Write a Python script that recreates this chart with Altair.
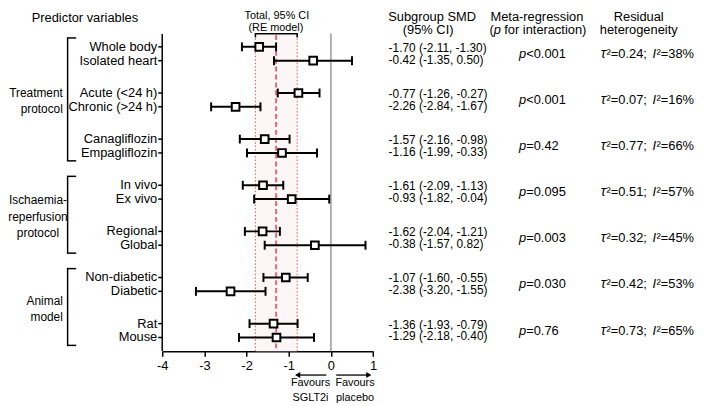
import altair as alt
import pandas as pd

# ---------------- data ----------------
labels = ["Whole body", "Isolated heart", "Acute (<24 h)", "Chronic (>24 h)",
          "Canagliflozin", "Empagliflozin", "In vivo", "Ex vivo",
          "Regional", "Global", "Non-diabetic", "Diabetic", "Rat", "Mouse"]
smd = [-1.70, -0.42, -0.77, -2.26, -1.57, -1.16, -1.61, -0.93,
       -1.62, -0.38, -1.07, -2.38, -1.36, -1.29]
ci_low = [-2.11, -1.35, -1.26, -2.84, -2.16, -1.99, -2.09, -1.82,
          -2.04, -1.57, -1.60, -3.20, -1.93, -2.18]
ci_high = [-1.30, 0.50, -0.27, -1.67, -0.98, -0.33, -1.13, -0.04,
           -1.21, 0.82, -0.55, -1.55, -0.79, -0.40]
p_values = ["<0.001", "<0.001", "=0.42", "=0.095", "=0.003", "=0.030", "=0.76"]
tau2 = ["0.24", "0.07", "0.77", "0.51", "0.32", "0.42", "0.73"]
i2 = ["38%", "16%", "66%", "57%", "45%", "53%", "65%"]
group_lines = [["Treatment", "protocol"],
               ["Ischaemia-", "reperfusion", "protocol"],
               ["Animal", "model"]]
group_pairs = [[0, 1, 2], [3, 4], [5, 6]]
group_align = ["right", "center", "right"]
overall_est = -1.30
overall_low = -1.79
overall_high = -0.80
x_ticks = [-4, -3, -2, -1, 0, 1]

# ---------------- layout ----------------
FONT = "Liberation Sans"
PX = 14.0          # pixels per row unit
PAIR = 10 / 3      # row units between pairs
Y0 = 37
N_UNITS = 21
AX_TOP = 24
AX_BOTTOM = 345

xscale = alt.Scale(domain=[x_ticks[0], x_ticks[-1]], range=[156, 369.3], nice=False, zero=False)
yscale = alt.Scale(domain=[0, N_UNITS], range=[Y0, Y0 + PX * N_UNITS], nice=False, zero=False)
xaxis = alt.Axis(values=x_ticks, title=None, labelExpr="'' + datum.value", grid=False,
                 domainColor="black", domainWidth=1.5, tickColor="black", tickWidth=1.5,
                 tickSize=5, labelFontSize=13, labelFont=FONT, labelColor="black",
                 labelPadding=3, labelFlush=False)


def X(f):
    return alt.X(f, type="quantitative", scale=xscale, axis=xaxis)


def Y(f):
    return alt.Y(f, type="quantitative", scale=yscale, axis=None)


n = len(labels)
rows = pd.DataFrame({"label": labels, "smd": smd, "lo": ci_low, "hi": ci_high})
rows["pos"] = [(i // 2) * PAIR + (i % 2) for i in range(n)]
rows["tpos"] = [(i // 2) * PAIR + 0.5 + (-0.43 if i % 2 == 0 else 0.43) for i in range(n)]
rows["txt"] = [f"{s:.2f} ({l:.2f}, {h:.2f})" for s, l, h in zip(smd, ci_low, ci_high)]

pairs = pd.DataFrame({
    "mid": [k * PAIR + 0.5 for k in range(len(p_values))],
    "p": p_values,
    "tau": ["\u00b2=" + t + ";" for t in tau2],
    "i2": ["\u00b2=" + v for v in i2],
})

br_top = [g[0] * PAIR - 9 / PX for g in group_pairs]
br_bot = [g[-1] * PAIR + 1 + 8 / PX for g in group_pairs]
brackets = pd.DataFrame({"top": br_top, "bottom": br_bot})
arms = pd.DataFrame({"y": br_top + br_bot})

gl = []
for lines, t, b, al in zip(group_lines, br_top, br_bot, group_align):
    mid = (t + b) / 2 + 2 / PX
    m = len(lines)
    for j, s in enumerate(lines):
        gl.append({"text": s, "y": mid + (j - (m - 1) / 2) * 16.5 / PX, "align": al})
glabels = pd.DataFrame(gl)

overall = pd.DataFrame({"est": [overall_est], "lo": [overall_low], "hi": [overall_high]})
zero_df = pd.DataFrame({"x": [0]})
yaxis_df = pd.DataFrame({"x": [x_ticks[0]]})
one = pd.DataFrame({"k": [0]})


def label(text, x, y, size=13, align="center", style="normal"):
    return alt.Chart(one).mark_text(
        text=text, align=align, baseline="alphabetic", fontSize=size, font=FONT,
        fontStyle=style, color="black"
    ).encode(x=alt.value(x), y=alt.value(y))


layers = []

# shaded overall CI
layers.append(alt.Chart(overall).mark_rect(color="#fdf6f6").encode(
    x=X("lo"), x2="hi", y=alt.value(AX_TOP + 1), y2=alt.value(AX_BOTTOM)))
# zero line
layers.append(alt.Chart(zero_df).mark_rule(color="#9a9a9a", strokeWidth=1.5).encode(
    x=X("x"), y=alt.value(AX_TOP - 0.5), y2=alt.value(AX_BOTTOM)))
# dotted overall CI lines
layers.append(alt.Chart(overall).transform_fold(["lo", "hi"], as_=["k", "v"]).mark_rule(
    color="#f0505a", strokeWidth=1, strokeDash=[1.5, 2]).encode(
    x=X("v"), y=alt.value(AX_TOP + 1), y2=alt.value(AX_BOTTOM)))
# dashed overall estimate
layers.append(alt.Chart(overall).mark_rule(color="#e3262e", strokeWidth=1.3, strokeDash=[5, 3]).encode(
    x=X("est"), y=alt.value(AX_TOP + 1), y2=alt.value(AX_BOTTOM)))
# bracket over overall CI
layers.append(alt.Chart(overall).mark_rule(color="black", strokeWidth=1.5).encode(
    x=X("lo"), x2="hi", y=alt.value(23.8)))
layers.append(alt.Chart(overall).transform_fold(["lo", "hi"], as_=["k", "v"]).mark_rule(
    color="black", strokeWidth=1.5).encode(x=X("v"), y=alt.value(23.1), y2=alt.value(27.5)))

# y axis line + ticks
layers.append(alt.Chart(yaxis_df).mark_rule(color="black", strokeWidth=1.5).encode(
    x=X("x"), y=alt.value(AX_TOP), y2=alt.value(AX_BOTTOM)))
layers.append(alt.Chart(rows).mark_rule(color="black", strokeWidth=1.5).encode(
    x=alt.value(152), x2=alt.value(156), y=Y("pos")))
# row labels
layers.append(alt.Chart(rows).mark_text(align="right", baseline="middle", fontSize=13,
                                        font=FONT, color="black").encode(
    x=alt.value(151), y=Y("pos"), text="label:N"))

# error bars
layers.append(alt.Chart(rows).mark_rule(color="black", strokeWidth=2).encode(
    x=X("lo"), x2="hi", y=Y("pos")))
layers.append(alt.Chart(rows).transform_fold(["lo", "hi"], as_=["k", "v"]).mark_tick(
    orient="vertical", size=9, thickness=2, color="black", opacity=1).encode(
    x=X("v"), y=Y("pos")))
layers.append(alt.Chart(rows).mark_point(shape="square", filled=True, fill="white",
                                         stroke="black", strokeWidth=2, size=60,
                                         opacity=1).encode(x=X("smd"), y=Y("pos")))

# group brackets
layers.append(alt.Chart(brackets).mark_rule(color="black", strokeWidth=1.5).encode(
    x=alt.value(60.3), y=Y("top"), y2="bottom"))
layers.append(alt.Chart(arms).mark_rule(color="black", strokeWidth=1.5).encode(
    x=alt.value(59.6), x2=alt.value(69), y=Y("y")))
layers.append(alt.Chart(glabels).transform_filter("datum.align == 'right'").mark_text(
    align="right", baseline="middle", fontSize=12, font=FONT, color="black").encode(
    x=alt.value(55.5), y=Y("y"), text="text:N"))
layers.append(alt.Chart(glabels).transform_filter("datum.align == 'center'").mark_text(
    align="center", baseline="middle", fontSize=12, font=FONT, color="black").encode(
    x=alt.value(30.3), y=Y("y"), text="text:N"))

# SMD column
layers.append(alt.Chart(rows).mark_text(align="left", baseline="middle", fontSize=12,
                                        font=FONT, color="black").encode(
    x=alt.value(385), y=Y("tpos"), text="txt:N"))
# p column
layers.append(alt.Chart(pairs).mark_text(text="p", align="left", baseline="middle", fontSize=13,
                                         font=FONT, fontStyle="italic", color="black").encode(
    x=alt.value(517), y=Y("mid")))
layers.append(alt.Chart(pairs).mark_text(align="left", baseline="middle", fontSize=13,
                                         font=FONT, color="black").encode(
    x=alt.value(524.2), y=Y("mid"), text="p:N"))
# heterogeneity column
layers.append(alt.Chart(pairs).mark_text(text="\u03c4", align="left", baseline="middle", fontSize=14,
                                         font=FONT, fontStyle="italic", color="black").encode(
    x=alt.value(599.5), y=Y("mid")))
layers.append(alt.Chart(pairs).mark_text(align="left", baseline="middle", fontSize=13,
                                         font=FONT, color="black").encode(
    x=alt.value(605.5), y=Y("mid"), text="tau:N"))
layers.append(alt.Chart(pairs).mark_text(text="I", align="left", baseline="middle", fontSize=13,
                                         font=FONT, fontStyle="italic", color="black").encode(
    x=alt.value(652), y=Y("mid")))
layers.append(alt.Chart(pairs).mark_text(align="left", baseline="middle", fontSize=13,
                                         font=FONT, color="black").encode(
    x=alt.value(656), y=Y("mid"), text="i2:N"))

# headers
layers += [
    label("Predictor variables", 24, 11.5, align="left"),
    label("Total, 95% CI", 272, 9, size=11),
    label("(RE model)", 271, 20.5, size=11),
    label("Subgroup SMD", 429, 10.5),
    label("(95% CI)", 425, 24),
    label("Meta-regression", 535, 10.5),
    label("(", 487, 24, align="left"),
    label("p", 491.3, 24, align="left", style="italic"),
    label("for interaction)", 502, 24, align="left"),
    label("Residual", 638, 10.5),
    label("heterogeneity", 638, 24),
]

# favours arrows + text
layers.append(alt.Chart(one).mark_rule(color="black", strokeWidth=1.3).encode(
    x=alt.value(294), x2=alt.value(322), y=alt.value(369)))
layers.append(alt.Chart(one).mark_point(shape="triangle-left", filled=True, color="black",
                                        size=36, opacity=1).encode(
    x=alt.value(293), y=alt.value(369)))
layers.append(alt.Chart(one).mark_rule(color="black", strokeWidth=1.3).encode(
    x=alt.value(332), x2=alt.value(364), y=alt.value(369)))
layers.append(alt.Chart(one).mark_point(shape="triangle-right", filled=True, color="black",
                                        size=36, opacity=1).encode(
    x=alt.value(365), y=alt.value(369)))
layers += [
    label("Favours", 306, 380, size=11),
    label("SGLT2i", 306, 395, size=11),
    label("Favours", 351, 380, size=11),
    label("placebo", 351, 395, size=11),
]

chart = alt.layer(*layers).properties(
    width=700, height=AX_BOTTOM, padding=0, background="white"
).configure_view(stroke=None).configure_axis(grid=False)

chart.save("out.html", embed_options={"renderer": "svg", "actions": False})
